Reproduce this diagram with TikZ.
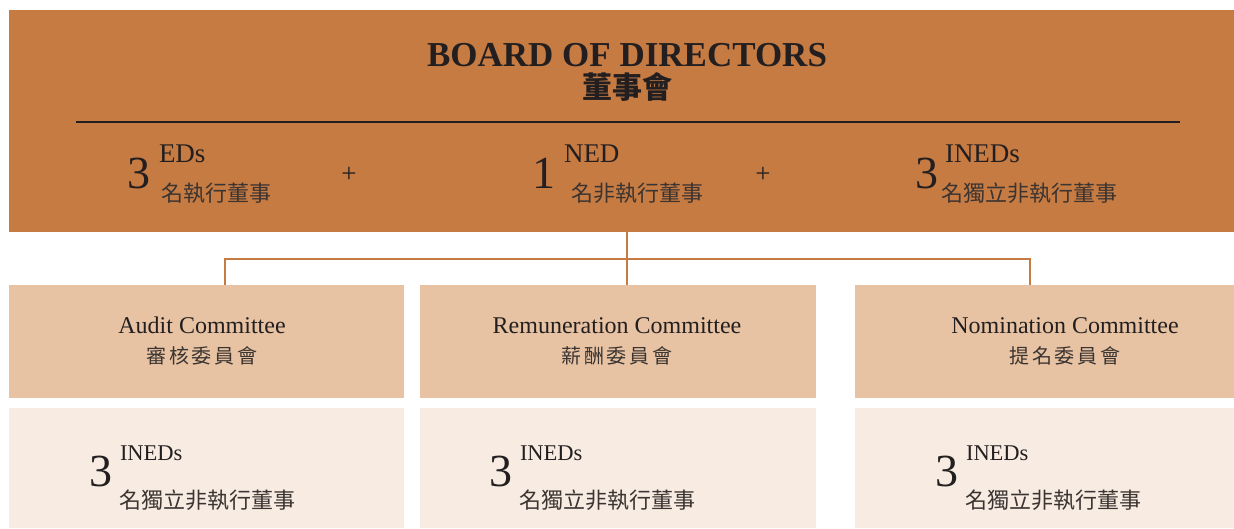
\documentclass[tikz,border=0pt]{standalone}
\usepackage{fontspec}
\setmainfont{Liberation Serif}
\newfontfamily\cjk{Noto Sans CJK TC}
\newfontfamily\cjks[LetterSpace=14]{Noto Sans CJK TC}
\definecolor{boardc}{HTML}{C67B43}
\definecolor{commc}{HTML}{E7C3A3}
\definecolor{memc}{HTML}{F8ECE2}
\definecolor{inkc}{HTML}{231F20}
\definecolor{cjkc}{HTML}{3B3431}
\tikzset{
  box/.style={rectangle, draw=none, inner sep=0pt, outer sep=0pt},
  txt/.style={inner sep=0pt, outer sep=0pt, text=inkc},
  big/.style={txt, anchor=base, font=\fontsize{46}{50}\selectfont},
  sup/.style={txt, anchor=base west, font=\fontsize{27}{30}\selectfont},
  supsm/.style={txt, anchor=base west, font=\fontsize{22.5}{26}\selectfont},
  zh/.style={txt, anchor=west, text=cjkc, font=\cjk\fontsize{22}{24}\selectfont},
  comm/.style={txt, anchor=base, font=\fontsize{24}{28}\selectfont},
  commzh/.style={txt, text=cjkc, font=\cjks\fontsize{20}{24}\selectfont},
  plus/.style={txt, font=\fontsize{27}{30}\selectfont},
  conn/.style={draw=boardc, line width=2.5pt}
}
\begin{document}
\begin{tikzpicture}[x=1pt,y=-1pt]
\useasboundingbox (0,0) rectangle (1234,528);
% boxes
\node[box, fill=boardc, minimum width=1225pt, minimum height=222pt] (board) at (621.5,121) {};
\node[box, fill=commc, minimum width=395pt, minimum height=113pt] (audit) at (206.5,341.5) {};
\node[box, fill=commc, minimum width=396pt, minimum height=113pt] (remun) at (618,341.5) {};
\node[box, fill=commc, minimum width=379pt, minimum height=113pt] (nomin) at (1044.5,341.5) {};
\node[box, fill=memc, minimum width=395pt, minimum height=120pt] (auditm) at (206.5,468) {};
\node[box, fill=memc, minimum width=396pt, minimum height=120pt] (remunm) at (618,468) {};
\node[box, fill=memc, minimum width=379pt, minimum height=120pt] (nominm) at (1044.5,468) {};
% title
\node[txt, anchor=base, font=\bfseries\fontsize{35}{40}\selectfont] (title) at (627,66) {BOARD OF DIRECTORS};
\node[txt, font=\cjk\bfseries\fontsize{30}{34}\selectfont] (titlezh) at (627,87) {董事會};
\coordinate (rl) at (76,122);
\coordinate (rr) at (1180,122);
\draw[draw=inkc, line width=2.5pt] (rl) -- (rr);
% composition row
\node[big] (n1) at (139,188) {3};
\node[sup] (s1) at (159,162) {EDs};
\node[zh] (z1) at (161,193) {名執行董事};
\node[plus] (p1) at (349,175) {+};
\node[big] (n2) at (544,188) {1};
\node[sup] (s2) at (564,162) {NED};
\node[zh] (z2) at (571,193) {名非執行董事};
\node[plus] (p2) at (763,175) {+};
\node[big] (n3) at (926.5,188) {3};
\node[sup] (s3) at (945,162) {INEDs};
\node[zh] (z3) at (941,193) {名獨立非執行董事};
% connectors
\coordinate (hub) at (627,259);
\coordinate (ja) at (225,259);
\coordinate (jn) at (1030,259);
\draw[conn] (board.south -| hub) -- (remun.north -| hub);
\draw[conn] (audit.north -| ja) -- (ja) -- (jn) -- (nomin.north -| jn);
% committee labels
\node[comm] (ta) at (202,333) {Audit Committee};
\node[commzh] (tza) at (202,356) {審核委員會};
\node[comm] (tr) at (617,333) {Remuneration Committee};
\node[commzh] (tzr) at (617,356) {薪酬委員會};
\node[comm] (tn) at (1065,333) {Nomination Committee};
\node[commzh] (tzn) at (1065,356) {提名委員會};
% membership
\node[big] (ma) at (100.5,486) {3};
\node[supsm] (msa) at (120,460) {INEDs};
\node[zh] (mza) at (119,500) {名獨立非執行董事};
\node[big] (mr) at (500.5,486) {3};
\node[supsm] (msr) at (520,460) {INEDs};
\node[zh] (mzr) at (519,500) {名獨立非執行董事};
\node[big] (mn) at (946.5,486) {3};
\node[supsm] (msn) at (966,460) {INEDs};
\node[zh] (mzn) at (965,500) {名獨立非執行董事};
\end{tikzpicture}
\end{document}
